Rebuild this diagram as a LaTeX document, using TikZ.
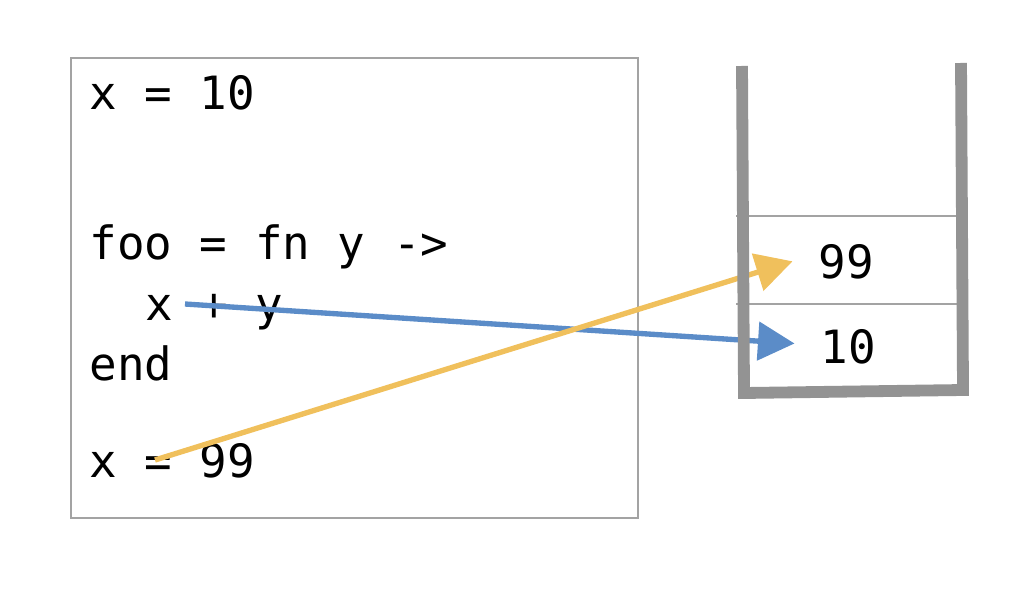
\documentclass[tikz,border=0pt]{standalone}
\usepackage{fontspec}
\setmonofont{DejaVu Sans Mono}
\usepackage{xcolor}
\usepackage{tikz}
\usetikzlibrary{arrows.meta,positioning}
\definecolor{refblue}{HTML}{5B8CC8}
\definecolor{refyellow}{HTML}{F0C05C}
\definecolor{stackgray}{HTML}{939393}
\definecolor{boxgray}{HTML}{A3A3A3}

\begin{document}
\begin{tikzpicture}[x=0.0125cm,y=-0.0125cm,>={Triangle[length=13pt,width=13.5pt]},
  code/.style={anchor=base west,inner sep=0pt,font=\ttfamily\fontsize{16.3}{20}\selectfont},
  val/.style={anchor=base,inner sep=0pt,font=\ttfamily\fontsize{16.3}{20}\selectfont}]
  \useasboundingbox (0,0) rectangle (1024,596);
  \draw[boxgray,line width=0.6pt] (71,58) rectangle (638,518);
  \node[code] (def1) at (89,110) {x = 10};
  \node[code] (foo) at (89,260) {foo = fn y ->};
  \node[code] (body) at (145,320) {x + y};
  \node[code] (fend) at (89,380) {end};
  \node[code] (def2) at (89,477) {x = 99};
  \coordinate (xuse) at (185,304);
  \coordinate (xset) at (155,460);
  \draw[boxgray,line width=0.6pt] (736,216) -- (956,216);
  \draw[boxgray,line width=0.6pt] (736,304) -- (957,304);
  \node[val] (v99) at (846,278) {99};
  \node[val] (v10) at (848,363) {10};
  \draw[refblue,line width=1.9pt,->] (xuse) -- ([xshift=-9pt,yshift=1pt]v10.west);
  \draw[refyellow,line width=1.9pt,->] (xset) -- ([xshift=-9pt]v99.west);
  \draw[stackgray,line width=4.2pt] (742,66) -- (744,393) -- (963,390) -- (961,63);
\end{tikzpicture}
\end{document}
